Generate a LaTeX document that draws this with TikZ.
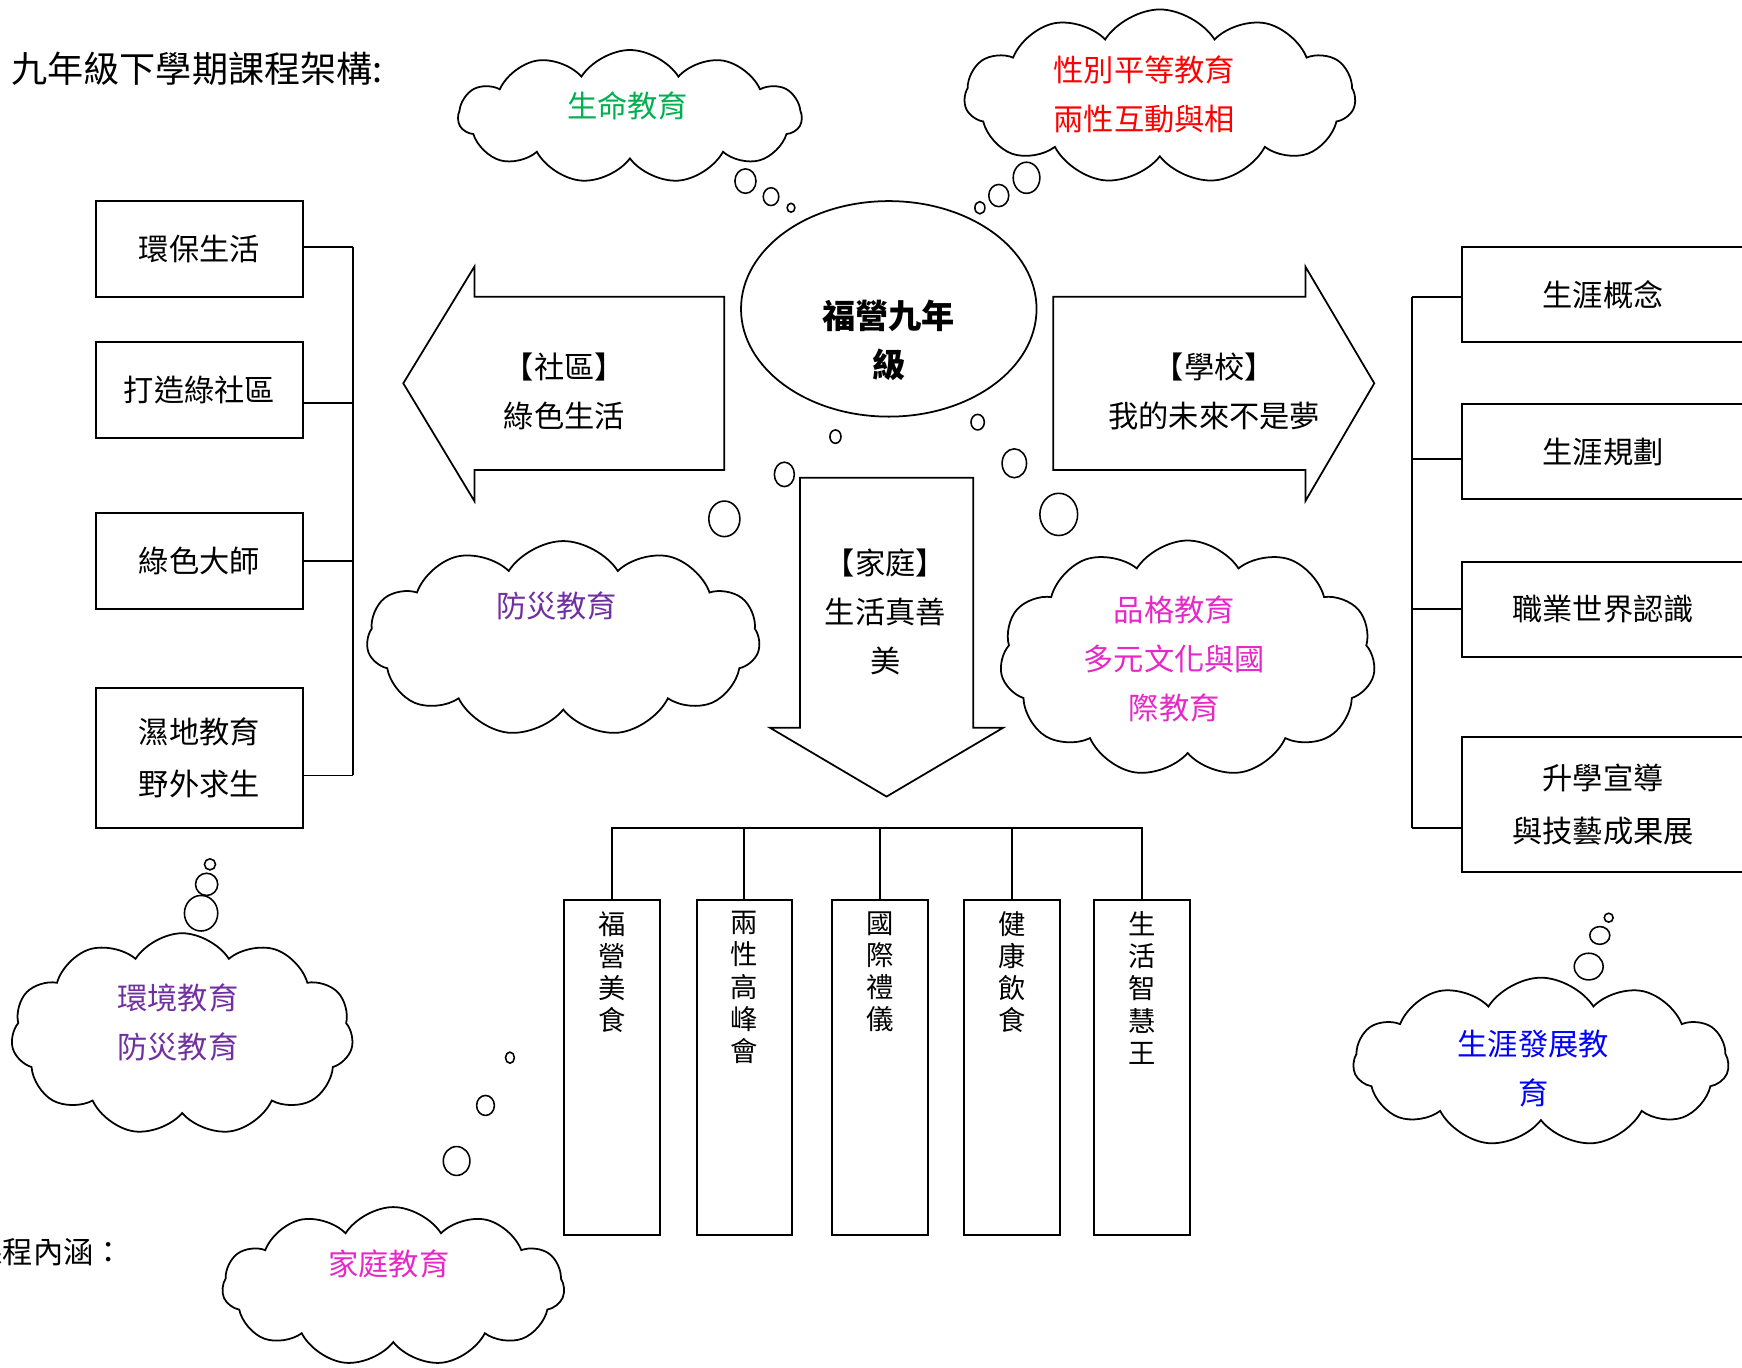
\documentclass[tikz,border=0pt]{standalone}
\usepackage{fontspec}
\setmainfont{Noto Sans CJK TC}
\usepackage{tikz}
\usetikzlibrary{calc,shapes.geometric,shapes.symbols}
\definecolor{lifegreen}{RGB}{0,176,80}
\definecolor{genderred}{RGB}{255,0,0}
\definecolor{safepurple}{RGB}{112,48,160}
\definecolor{fampink}{RGB}{230,40,200}
\definecolor{careerblue}{RGB}{0,0,255}
\def\bubble(#1)(#2:#3){\draw[line width=0.8pt] (#1) ellipse (#2mm and #3mm);}
\tikzset{
	box/.style={draw, line width=1pt, inner sep=0pt, align=center, font=\fontsize{15.5pt}{27pt}\selectfont},
	vbox/.style={draw, line width=1pt, inner sep=0pt, minimum width=17.2mm, minimum height=60.4mm},
	vtext/.style={anchor=north, inner sep=0pt, align=center, font=\fontsize{14pt}{16.5pt}\selectfont},
	say/.style={inner sep=0pt, align=center, font=\fontsize{15.5pt}{25pt}\selectfont},
	puff/.style={cloud, draw, line width=0.9pt, cloud puffs=11, cloud puff arc=115, inner sep=0pt},
	bigarrow/.style={draw, line width=0.9pt}
}
\begin{document}
\begin{tikzpicture}[x=0.2mm, y=-0.2mm]
		%%%%% START %%%%%
		\useasboundingbox (0,0) rectangle (1568,1230.5);
		
		\node[anchor=west, inner sep=0pt, font=\fontsize{18.5pt}{20pt}\selectfont] (title) at (10,62) {九年級下學期課程架構:};
		\node[anchor=east, inner sep=0pt, font=\fontsize{15.5pt}{18pt}\selectfont] (meaning) at (112,1127) {課程內涵：};
		
		% center
		\node[ellipse, draw, line width=0.9pt, minimum width=53.2mm, minimum height=38.8mm] (core) at (800,278) {};
		\node[say, font=\bfseries\fontsize{17pt}{25pt}\selectfont] (coretext) at (800,306) {福營九年\\級};
		
		% three arrows
		\draw[bigarrow] (652,267) -- (427,267) -- (427,240) -- (363,345) -- (427,451) -- (427,423) -- (652,423) -- cycle;
		\draw[bigarrow] (948,267) -- (1175,267) -- (1175,240) -- (1237,345) -- (1175,451) -- (1175,423) -- (948,423) -- cycle;
		\draw[bigarrow] (720,430) -- (876,430) -- (876,655) -- (903,655) -- (798,717) -- (693,655) -- (720,655) -- cycle;
		\node[say] (community) at (508,352) {【社區】\\綠色生活};
		\node[say] (school) at (1093,352) {【學校】\\我的未來不是夢};
		\node[say] (family) at (797,551) {【家庭】\\生活真善\\美};
		
		% left branch
		\node[box, minimum width=37.4mm, minimum height=17.2mm] (lb1) at (179.5,224) {環保生活};
		\node[box, minimum width=37.4mm, minimum height=17.2mm] (lb2) at (179.5,351) {打造綠社區};
		\node[box, minimum width=37.4mm, minimum height=17.2mm] (lb3) at (179.5,505) {綠色大師};
		\node[box, minimum width=37.4mm, minimum height=25.2mm] (lb4) at (179.5,682) {濕地教育\\野外求生};
		\coordinate (lbusT) at (318,222);
		\coordinate (lbusB) at (318,698);
		\draw[line width=1pt] (lbusT) -- (lbusB);
		\draw[line width=1pt] ($(lb1.east)+(0,-2)$) -- (lbusT);
		\draw[line width=1pt] ($(lb2.east)+(0,12)$) -- ++(45,0);
		\draw[line width=1pt] (lb3.east) -- ++(45,0);
		\draw[line width=1pt] ($(lb4.east)+(0,16)$) -- (lbusB);
		
		% right branch
		\node[box, minimum width=50.8mm, minimum height=17.2mm] (rb1) at (1443,265) {生涯概念};
		\node[box, minimum width=50.8mm, minimum height=17mm] (rb2) at (1443,406.5) {生涯規劃};
		\node[box, minimum width=50.8mm, minimum height=17mm] (rb3) at (1443,548.5) {職業世界認識};
		\node[box, minimum width=50.8mm, minimum height=24.4mm] (rb4) at (1443,724) {升學宣導\\與技藝成果展};
		\coordinate (rbusT) at (1271,267);
		\coordinate (rbusB) at (1271,745);
		\draw[line width=1pt] (rbusT) -- (rbusB);
		\draw[line width=1pt] ($(rb1.west)+(0,2)$) -- (rbusT);
		\draw[line width=1pt] ($(rb2.west)+(0,6.5)$) -- ++(-45,0);
		\draw[line width=1pt] (rb3.west) -- ++(-45,0);
		\draw[line width=1pt] ($(rb4.west)+(0,21)$) -- (rbusB);
		
		% bottom branch
		\node[vbox] (bb1) at (551,961) {};
		\node[vbox] (bb2) at (670,961) {};
		\node[vbox] (bb3) at (792,961) {};
		\node[vbox] (bb4) at (911,961) {};
		\node[vbox] (bb5) at (1028,961) {};
		\node[vtext] (bt1) at (bb1.north |- 0,820) {福\\營\\美\\食};
		\node[vtext] (bt2) at (bb2.north |- 0,820) {兩\\性\\高\\峰\\會};
		\node[vtext] (bt3) at (bb3.north |- 0,820) {國\\際\\禮\\儀};
		\node[vtext] (bt4) at (bb4.north |- 0,820) {健\\康\\飲\\食};
		\node[vtext] (bt5) at (bb5.north |- 0,820) {生\\活\\智\\慧\\王};
		\coordinate (bbus) at (0,745);
		\draw[line width=1pt] (bb1.north) -- (bb1.north |- bbus) -- (bb5.north |- bbus) -- (bb5.north);
		\foreach \b in {bb2,bb3,bb4}
			\draw[line width=1pt] (\b.north) -- (\b.north |- bbus);
		
		% clouds
		\node[puff, aspect=2.6, minimum width=61.8mm, minimum height=24mm] (lifecloud) at (567,105) {};
		\node[say, text=lifegreen] (life) at (565,95) {生命教育};
		\node[puff, aspect=2.2, minimum width=70.4mm, minimum height=31.4mm] (gendercloud) at (1044,87) {};
		\node[say, text=genderred] (gender) at (1030,85) {性別平等教育\\兩性互動與相};
		\node[puff, aspect=2, minimum width=70.8mm, minimum height=35.2mm] (safecloud) at (507,575) {};
		\node[say, text=safepurple] (safe) at (501,545) {防災教育};
		\node[puff, aspect=1.6, minimum width=67.6mm, minimum height=42.6mm] (charcloud) at (1069,593) {};
		\node[say, text=fampink] (character) at (1057,593) {品格教育\\多元文化與國\\際教育};
		\node[puff, aspect=1.7, minimum width=61.6mm, minimum height=36.4mm] (envcloud) at (164,931) {};
		\node[say, text=safepurple] (environment) at (160,920) {環境教育\\防災教育};
		\node[puff, aspect=2.2, minimum width=61.6mm, minimum height=28.6mm] (famcloud) at (354,1158) {};
		\node[say, text=fampink] (home) at (350,1138) {家庭教育};
		\node[puff, aspect=2.2, minimum width=67.6mm, minimum height=30.4mm] (careercloud) at (1387,956) {};
		\node[say, text=careerblue] (career) at (1380,962) {生涯發展教\\育};
		
		% thought bubbles
		\bubble(671,163)(1.9:2.2) \bubble(694,177)(1.4:1.6) \bubble(712,187)(0.7:0.8)
		\bubble(924,160)(2.4:2.8) \bubble(899,176)(1.8:2) \bubble(882,187)(0.9:1.1)
		\bubble(752,393)(1:1.2) \bubble(880,380)(1.2:1.4) \bubble(706,427)(1.8:2.2)
		\bubble(913,417)(2.2:2.6) \bubble(652,467)(2.8:3.2) \bubble(953,463)(3.4:3.8)
		\bubble(181,822)(3:3.2) \bubble(186,796)(2:2) \bubble(189,778)(1:1)
		\bubble(411,1045)(2.4:2.6) \bubble(437,995)(1.6:1.8) \bubble(459,952)(0.8:1)
		\bubble(1430,870)(2.6:2.4) \bubble(1440,842)(1.8:1.6) \bubble(1448,826)(0.8:0.8)
		%%%%% END %%%%%
\end{tikzpicture}
\end{document}
